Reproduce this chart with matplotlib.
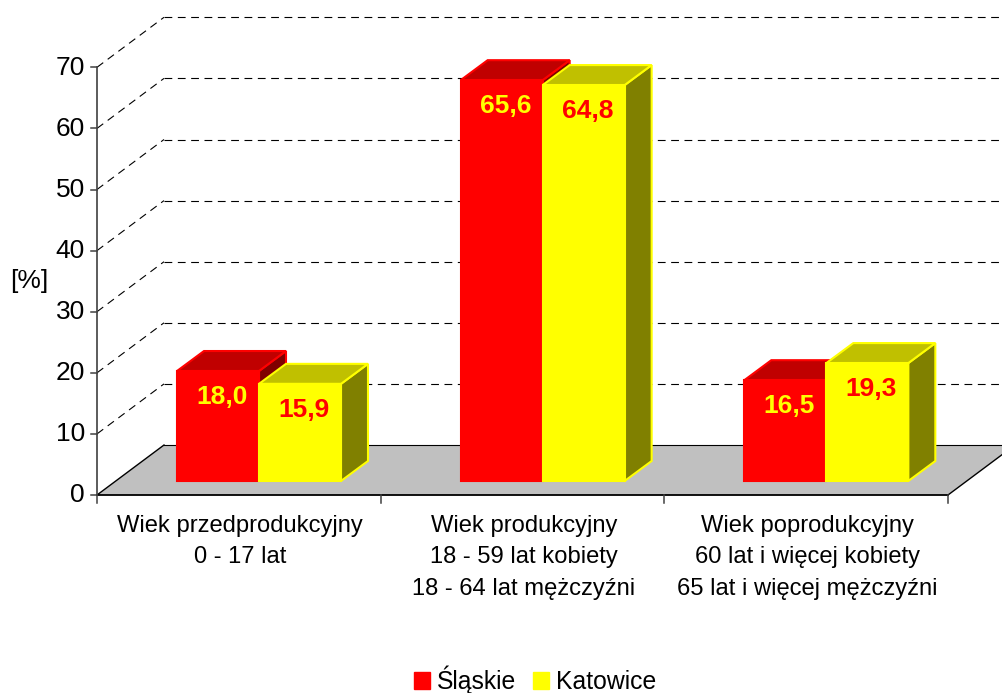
import numpy as np
import matplotlib
matplotlib.use("Agg")
import matplotlib.pyplot as plt
from matplotlib.patches import Polygon, Patch

plt.rcParams['font.family'] = ['Liberation Sans', 'DejaVu Sans']

groups = ["Wiek przedprodukcyjny\n0 - 17 lat",
          "Wiek produkcyjny\n18 - 59 lat kobiety\n18 - 64 lat mężczyźni",
          "Wiek poprodukcyjny\n60 lat i więcej kobiety\n65 lat i więcej mężczyźni"]
slaskie = [18.0, 65.6, 16.5]
katowice = [15.9, 64.8, 19.3]
yticks = [0, 10, 20, 30, 40, 50, 60, 70]

W, H = 1002, 693
px_x = 283.67   # pixels per category
px_y = 6.11     # pixels per percent
x0, y0 = 97, 495

fig = plt.figure(figsize=(W / 100, H / 100), dpi=100)
ax = fig.add_axes([0, 0, 1, 1])
ax.set_xlim(-x0 / px_x, (W - x0) / px_x)
ax.set_ylim((y0 - H) / px_y, y0 / px_y)
ax.axis("off")

# depth of the chart box and of the bars, in data units
dx = 67 / px_x
dy = 50 / px_y
bdx = 27 / px_x
bdy = 20 / px_y
gap_y = 14 / px_y
bar_w = 82 / px_x
start = 0.282
n = len(groups)

# floor
ax.add_patch(Polygon([(0, 0), (n, 0), (n + dx, dy), (dx, dy)], fc="#C0C0C0", ec="none", zorder=1))
ax.plot([0, dx], [0, dy], color="black", lw=1, zorder=2)
ax.plot([dx, n + dx], [dy, dy], color="black", lw=0.8, zorder=2)
ax.plot([n, n + dx], [0, dy], color="black", lw=1, zorder=2)
ax.plot([0, n], [0, 0], color="black", lw=1.3, zorder=2)

# walls
for v in yticks[1:]:
    ax.plot([0, dx], [v, v + dy], color="black", lw=0.8, dashes=(7, 5), zorder=2)
    ax.plot([dx, n + dx], [v + dy, v + dy], color="black", lw=0.8, dashes=(7, 5), zorder=2)

# axis lines and ticks
ax.plot([0, 0], [0, 70], color="#404040", lw=1.2, zorder=2)
for v in yticks:
    ax.plot([-6 / px_x, 0], [v, v], color="#404040", lw=1.1, zorder=2)
    ax.text(-12 / px_x, v - 0.05, str(v), ha="right", va="center", fontsize=19)
for i in range(n + 1):
    ax.plot([i, i], [0, -8 / px_y], color="#404040", lw=1.1, zorder=2)


def draw_bar(x, v, front, top, side, edge, z):
    x1 = x + bar_w
    b = gap_y
    t = v + gap_y
    ax.add_patch(Polygon([(x1, b), (x1 + bdx, b + bdy), (x1 + bdx, t + bdy), (x1, t)],
                         fc=side, ec=edge, lw=1.5, zorder=z))
    ax.add_patch(Polygon([(x, t), (x + bdx, t + bdy), (x1 + bdx, t + bdy), (x1, t)],
                         fc=top, ec=edge, lw=1.5, zorder=z))
    ax.add_patch(Polygon([(x, b), (x1, b), (x1, t), (x, t)],
                         fc=front, ec=edge, lw=1.5, zorder=z))


for i in range(n):
    xa = i + start
    xb = xa + bar_w
    draw_bar(xa, slaskie[i], "#FF0000", "#C00000", "#800000", "#FF0000", 3)
    draw_bar(xb, katowice[i], "#FFFF00", "#C0C000", "#808000", "#FFFF00", 4)
    ax.text(xa + bar_w * 0.55, slaskie[i] + gap_y - 4.3, f"{slaskie[i]:.1f}".replace(".", ","),
            color="#FFFF00", fontsize=19, fontweight="bold", ha="center", va="center", zorder=5)
    ax.text(xb + bar_w * 0.55, katowice[i] + gap_y - 4.2, f"{katowice[i]:.1f}".replace(".", ","),
            color="#FF0000", fontsize=19, fontweight="bold", ha="center", va="center", zorder=5)
    ax.text(i + 0.505, -20 / px_y, groups[i], ha="center", va="top", fontsize=17.1, linespacing=1.55)

ax.text(-68 / px_x, 35, "[%]", ha="center", va="center", fontsize=19)

ax.legend(handles=[Patch(fc="#FF0000", ec="#FF0000", label="Śląskie"),
                   Patch(fc="#FFFF00", ec="#FFFF00", label="Katowice")],
          loc="center", bbox_to_anchor=(535 / W, 1 - 680 / H), ncol=2, frameon=False,
          fontsize=17.8, handlelength=0.65, handleheight=0.65, handletextpad=0.28,
          columnspacing=0.65, borderpad=0)

fig.savefig("out.png", dpi=100)
